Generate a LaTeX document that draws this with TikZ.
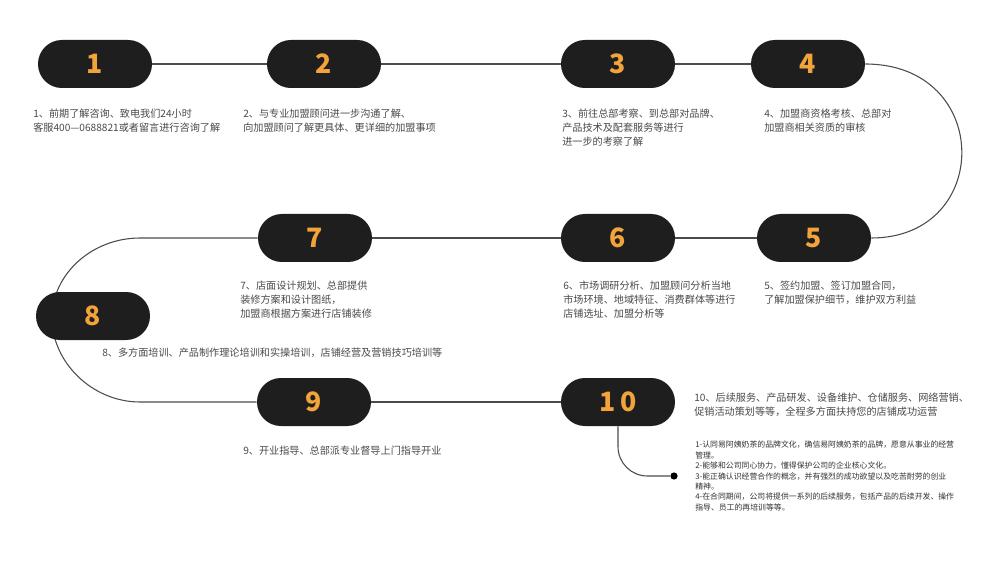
\documentclass[tikz,border=0pt]{standalone}
\usepackage{fontspec}
\setmainfont{Noto Sans CJK SC}
\usetikzlibrary{backgrounds}
\definecolor{pill}{HTML}{1E1E1E}
\definecolor{num}{HTML}{F2A33A}
\definecolor{txt}{HTML}{4A4A4A}
\begin{document}
\begin{tikzpicture}[x=0.75pt,y=-0.75pt,
  stepbox/.style={fill=pill,rounded corners=17.9pt,minimum width=85.5pt,minimum height=36pt,inner sep=0,text=num,font=\fontsize{20}{20}\selectfont\bfseries},
  note/.style={anchor=north west,inner sep=0,align=left,text=txt,font=\fontsize{7.6}{10.2}\selectfont},
  small/.style={anchor=north west,inner sep=0,align=left,text=black!80,font=\fontsize{5.9}{7.8}\selectfont},
  link/.style={draw=black!70,line width=0.8pt},
  dot/.style={circle,fill=black,inner sep=0,minimum size=5.4pt}]
\useasboundingbox (0,0) rectangle (1000,574);
% the ten steps
\node[stepbox] (s1) at (95,64) {1};
\node[stepbox] (s2) at (324,64) {2};
\node[stepbox] (s3) at (618,64) {3};
\node[stepbox] (s4) at (808,64) {4};
\node[stepbox] (s5) at (814,238) {5};
\node[stepbox] (s6) at (618,238) {6};
\node[stepbox] (s7) at (315,238) {7};
\node[stepbox] (s8) at (93,316) {8};
\node[stepbox] (s9) at (314,402) {9};
\node[stepbox] (s10) at (618,402) {1\hspace{3pt}0};
\node[dot] (d10) at (674,476) {};
\coordinate (c7) at (140,238);
\coordinate (k8) at (52,318);
\coordinate (c9) at (140,402);
% texts
\node[note] (t1) at (33,109) {1、前期了解咨询、致电我们24小时\\客服400—0688821或者留言进行咨询了解};
\node[note] (t2) at (243,109) {2、与专业加盟顾问进一步沟通了解、\\向加盟顾问了解更具体、更详细的加盟事项};
\node[note] (t3) at (562,109) {3、前往总部考察、到总部对品牌、\\产品技术及配套服务等进行\\进一步的考察了解};
\node[note] (t4) at (764,109) {4、加盟商资格考核、总部对\\加盟商相关资质的审核};
\node[note] (t5) at (764,281) {5、签约加盟、签订加盟合同，\\了解加盟保护细节，维护双方利益};
\node[note] (t6) at (563,281) {6、市场调研分析、加盟顾问分析当地\\市场环境、地域特征、消费群体等进行\\店铺选址、加盟分析等};
\node[note] (t7) at (240,281) {7、店面设计规划、总部提供\\装修方案和设计图纸，\\加盟商根据方案进行店铺装修};
\node[note] (t8) at (102,348) {8、多方面培训、产品制作理论培训和实操培训，店铺经营及营销技巧培训等};
\node[note] (t9) at (243,446) {9、开业指导、总部派专业督导上门指导开业};
\node[note] (t10) at (694,393) {10、后续服务、产品研发、设备维护、仓储服务、网络营销、\\促销活动策划等等，全程多方面扶持您的店铺成功运营};
\node[small] (t11) at (695,441) {1-认同易阿姨奶茶的品牌文化，确信易阿姨奶茶的品牌，愿意从事业的经营\\管理。\\2-能够和公司同心协力，懂得保护公司的企业核心文化。\\3-能正确认识经营合作的概念，并有强烈的成功欲望以及吃苦耐劳的创业\\精神。\\4-在合同期间，公司将提供一系列的后续服务，包括产品的后续开发、操作\\指导、员工的再培训等等。};
% connectors
\begin{pgfonlayer}{background}
\fill[white] (0,0) rectangle (1000,574);
\draw[link] (s1) -- (s2);
\draw[link] (s2) -- (s3);
\draw[link] (s3) -- (s4);
\draw[link] (s4.east) .. controls (993,64) and (993,238) .. (s5.east);
\draw[link] (s5) -- (s6);
\draw[link] (s6) -- (s7);
\draw[link] (s7) -- (c7) .. controls (92,238) and (52,274) .. (k8);
\draw[link] (k8) .. controls (52,362) and (92,402) .. (c9) -- (s9);
\draw[link] (s9) -- (s10);
\draw[link,rounded corners=22pt] (s10.south) |- (d10);
\end{pgfonlayer}
\end{tikzpicture}
\end{document}
